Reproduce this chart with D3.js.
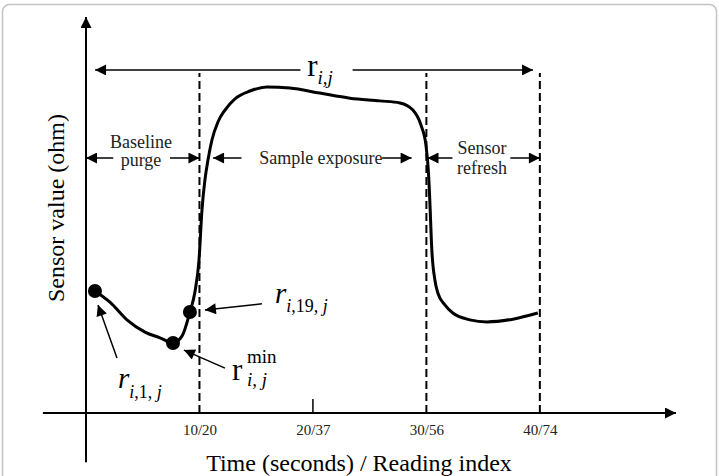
<!DOCTYPE html>
<html>
<head>
<meta charset="utf-8">
<script src="https://cdn.jsdelivr.net/npm/d3@7"></script>
<style>
  body { margin: 0; background: #fff; }
  svg { display: block; font-family: "Liberation Serif", "Times New Roman", serif; }
</style>
</head>
<body>
<div id="chart"></div>
<script>
// time axis (seconds) and the reading index shown next to it
const timeTicks = [10, 20, 30, 40];
const tickLabels = ["10/20", "20/37", "30/56", "40/74"];
const phaseBounds = [10, 30, 40];

// sensor response (arbitrary units, 0..100)
const curveTime = [0.79, 2.11, 3.61, 5.2, 6.52, 7.67, 8.46, 9.16, 9.6, 9.96, 10.22, 10.48,
  10.75, 11.1, 11.63, 12.25, 13.13, 14.45, 15.95, 17.97, 20.6, 23.26, 25.9, 27.67, 28.81,
  29.52, 29.96, 30.22, 30.3, 30.48, 30.75, 31.01, 31.63, 32.33, 33.83, 35.33, 37.62, 39.82];
const curveValue = [35.9, 32.6, 27.4, 23.8, 22.1, 20.6, 22.6, 29.7, 35.6, 45, 59.7, 68.5,
  74.4, 80.3, 85.6, 89.1, 92.4, 94.7, 95.9, 95.6, 94.1, 92.6, 91.8, 91.2, 89.1,
  84.7, 78.8, 68.5, 62.6, 47.9, 39.1, 35.3, 31.8, 29.4, 27.4, 26.8, 27.6, 29.4];
// highlighted readings: first, minimum, 19th
const markerIndex = [0, 5, 7];

// phase arrows (time from/to, value level)
const phaseArrows = [
  { from: 0, to: 2.4, v: 75 }, { from: 7.4, to: 10, v: 75 },
  { from: 11.2, to: 13.7, v: 75 }, { from: 26.1, to: 28.7, v: 75 },
  { from: 30.1, to: 32.3, v: 75 }, { from: 37.4, to: 40, v: 75 },
];
const phaseLabels = [
  { t: 4.85, v: 77.9, text: "Baseline" }, { t: 4.85, v: 72.6, text: "purge" },
  { t: 20.7, v: 73.2, text: "Sample exposure" },
  { t: 34.9, v: 76.2, text: "Sensor" }, { t: 34.9, v: 70.4, text: "refresh" },
];
// pointer arrows for the highlighted readings: tail (t0,v0) -> head (t1,v1)
const pointers = [
  { t0: 2.73, v0: 16.2, t1: 1.06, v1: 31.8 },
  { t0: 15.5, v0: 32.1, t1: 10.48, v1: 30.3 },
  { t0: 12.25, v0: 13.2, t1: 8.63, v1: 18.5 },
];

const width = 719, height = 476;

const x = d3.scaleLinear().domain([0, 52]).range([86, 676]);
const y = d3.scaleLinear().domain([0, 100]).range([413, 73]);

const svg = d3.select("#chart").append("svg")
  .attr("width", width).attr("height", height);

const defs = svg.append("defs");
function arrowMarker(id, w, h) {
  defs.append("marker")
    .attr("id", id)
    .attr("viewBox", "0 0 10 10")
    .attr("refX", 10).attr("refY", 5)
    .attr("markerWidth", w).attr("markerHeight", h)
    .attr("markerUnits", "userSpaceOnUse")
    .attr("orient", "auto-start-reverse")
    .append("path").attr("d", "M0,0L10,5L0,10Z").attr("fill", "#000");
}
arrowMarker("head", 14, 11);
arrowMarker("axhead", 13, 11);

// figure frame
svg.append("rect")
  .attr("x", 2.5).attr("y", 4.5).attr("width", 714).attr("height", 520).attr("rx", 7)
  .attr("fill", "none").attr("stroke", "#c4c4c4").attr("stroke-width", 1.5);

// axes with arrow tips
svg.append("line")
  .attr("x1", x(-3.8)).attr("x2", x(52)).attr("y1", y(0)).attr("y2", y(0))
  .attr("stroke", "#000").attr("stroke-width", 2).attr("marker-end", "url(#axhead)");
svg.append("line")
  .attr("x1", x(0)).attr("x2", x(0)).attr("y1", y(-14.5)).attr("y2", y(116.5))
  .attr("stroke", "#000").attr("stroke-width", 2).attr("marker-end", "url(#axhead)");

const xAxis = d3.axisBottom(x)
  .tickValues(timeTicks)
  .tickFormat((d, i) => tickLabels[i])
  .tickSize(0).tickPadding(11);
const gx = svg.append("g").attr("transform", `translate(0,${y(0)})`).call(xAxis);
gx.select(".domain").remove();
gx.selectAll("text")
  .attr("font-family", "Liberation Serif, Times New Roman, serif")
  .attr("font-size", 15).attr("fill", "#222");

// the one solid tick (20 s)
svg.append("line")
  .attr("x1", x(20)).attr("x2", x(20)).attr("y1", y(0)).attr("y2", y(4.1))
  .attr("stroke", "#000").attr("stroke-width", 1.5);

// phase boundaries
svg.selectAll("line.bound").data(phaseBounds).join("line")
  .attr("class", "bound")
  .attr("x1", d => x(d)).attr("x2", d => x(d))
  .attr("y1", y(0)).attr("y2", y(100))
  .attr("stroke", "#000").attr("stroke-width", 2).attr("stroke-dasharray", "8,4");

// axis titles
svg.append("text")
  .attr("x", 359).attr("y", 471).attr("text-anchor", "middle")
  .attr("font-size", 24).text("Time (seconds) / Reading index");
svg.append("text")
  .attr("transform", "translate(64,208) rotate(-90)").attr("text-anchor", "middle")
  .attr("font-size", 24).text("Sensor value (ohm)");

// overall span r_{i,j}
const spanV = 100.9;
svg.append("line")
  .attr("x1", x(18.9)).attr("x2", x(0.8)).attr("y1", y(spanV)).attr("y2", y(spanV))
  .attr("stroke", "#000").attr("stroke-width", 1.5).attr("marker-end", "url(#head)");
svg.append("line")
  .attr("x1", x(23.5)).attr("x2", x(39.4)).attr("y1", y(spanV)).attr("y2", y(spanV))
  .attr("stroke", "#000").attr("stroke-width", 1.5).attr("marker-end", "url(#head)");
const topLbl = svg.append("text").attr("x", x(19.5)).attr("y", y(99.1)).attr("font-size", 31);
topLbl.append("tspan").text("r");
topLbl.append("tspan").attr("font-size", 19).attr("font-style", "italic").attr("dy", 8).text("i,j");

// phase arrows and labels
svg.selectAll("line.phase").data(phaseArrows).join("line")
  .attr("class", "phase")
  .attr("x1", (d, i) => x(i % 2 ? d.from : d.to))
  .attr("x2", (d, i) => x(i % 2 ? d.to : d.from))
  .attr("y1", d => y(d.v)).attr("y2", d => y(d.v))
  .attr("stroke", "#000").attr("stroke-width", 1.5).attr("marker-end", "url(#head)");
svg.selectAll("text.phase").data(phaseLabels).join("text")
  .attr("class", "phase")
  .attr("x", d => x(d.t)).attr("y", d => y(d.v))
  .attr("text-anchor", "middle").attr("font-size", 18).attr("fill", "#222")
  .text(d => d.text);

// response curve
const line = d3.line()
  .x(d => x(d[0])).y(d => y(d[1]))
  .curve(d3.curveMonotoneX);
svg.append("path")
  .datum(curveTime.map((t, i) => [t, curveValue[i]]))
  .attr("d", line)
  .attr("fill", "none").attr("stroke", "#000").attr("stroke-width", 3);

svg.selectAll("circle.mark").data(markerIndex).join("circle")
  .attr("class", "mark")
  .attr("cx", i => x(curveTime[i])).attr("cy", i => y(curveValue[i]))
  .attr("r", 7).attr("fill", "#000");

// pointers
svg.selectAll("line.ptr").data(pointers).join("line")
  .attr("class", "ptr")
  .attr("x1", d => x(d.t0)).attr("y1", d => y(d.v0))
  .attr("x2", d => x(d.t1)).attr("y2", d => y(d.v1))
  .attr("stroke", "#000").attr("stroke-width", 1.5).attr("marker-end", "url(#head)");

// r_{i,1,j}
const l1 = svg.append("text").attr("x", x(2.82)).attr("y", y(7.35)).attr("font-size", 29);
l1.append("tspan").attr("font-style", "italic").text("r");
const s1 = l1.append("tspan").attr("font-size", 18).attr("dy", 10);
s1.append("tspan").attr("font-style", "italic").text("i");
s1.append("tspan").text(",1, ");
s1.append("tspan").attr("font-style", "italic").text("j");

// r_{i,19,j}
const l2 = svg.append("text").attr("x", x(16.65)).attr("y", y(32.4)).attr("font-size", 29);
l2.append("tspan").attr("font-style", "italic").text("r");
const s2 = l2.append("tspan").attr("font-size", 18).attr("dy", 9);
s2.append("tspan").attr("font-style", "italic").text("i");
s2.append("tspan").text(",19, ");
s2.append("tspan").attr("font-style", "italic").text("j");

// r_{i,j}^{min}
const lx = x(12.86), ly = y(9.7);
svg.append("text").attr("x", lx).attr("y", ly).attr("font-size", 31).text("r");
svg.append("text").attr("x", lx + 15).attr("y", ly - 17).attr("font-size", 19).text("min");
svg.append("text").attr("x", lx + 15).attr("y", ly + 6).attr("font-size", 19)
  .attr("font-style", "italic").text("i, j");
</script>
</body>
</html>
